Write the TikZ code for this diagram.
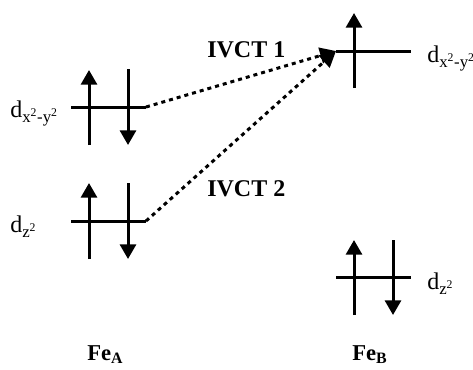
\documentclass[tikz,border=0pt]{standalone}
\usepackage{fontspec}
\setmainfont{Liberation Serif}
\usepackage{tikz}
\usetikzlibrary{arrows.meta,positioning}

\begin{document}
\begin{tikzpicture}[x=0.75pt,y=-0.75pt,
  lvl/.style={line width=2.25pt},
  spin/.style={line width=2.25pt,-{Triangle[width=12pt,length=11pt]}},
  ivct/.style={line width=2.25pt,dash pattern=on 3pt off 3pt,
               -{Triangle[width=12pt,length=12pt]}},
  orb/.style={font=\fontsize{18}{20}\selectfont,inner sep=0pt,anchor=base west},
  lbl/.style={font=\bfseries\fontsize{18}{20}\selectfont,inner sep=0pt,anchor=base west},
]
\useasboundingbox (0,0) rectangle (473,369);
% levels
\coordinate (a1l) at (71,107);  \coordinate (a1r) at (146,107);
\coordinate (a2l) at (71,221);  \coordinate (a2r) at (146,221);
\coordinate (b1l) at (336,51);  \coordinate (b1r) at (411,51);
\coordinate (b2l) at (336,277); \coordinate (b2r) at (411,277);
\draw[lvl] (a1l) -- (a1r);
\draw[lvl] (a2l) -- (a2r);
\draw[lvl] (b1l) -- (b1r);
\draw[lvl] (b2l) -- (b2r);
% spins
\draw[spin] (89,145) -- (89,70);
\draw[spin] (128,69) -- (128,145);
\draw[spin] (89,259) -- (89,183);
\draw[spin] (128,183) -- (128,259);
\draw[spin] (354,88) -- (354,13);
\draw[spin] (354,315) -- (354,240);
\draw[spin] (393,240) -- (393,315);
% charge transfer
\draw[ivct] (a1r) -- (b1l);
\draw[ivct] (a2r) -- (b1l);
\node[lbl] (t1) at (207,57) {IVCT 1};
\node[lbl] (t2) at (207,196) {IVCT 2};
% orbital labels
\node[orb] (la1) at (10,117) {d\textsubscript{x\textsuperscript{2}-y\textsuperscript{2}}};
\node[orb] (la2) at (10,232) {d\textsubscript{z\textsuperscript{2}}};
\node[orb] (lb1) at (427,62) {d\textsubscript{x\textsuperscript{2}-y\textsuperscript{2}}};
\node[orb] (lb2) at (427,289) {d\textsubscript{z\textsuperscript{2}}};
\node[lbl,font=\bfseries\fontsize{17}{19}\selectfont] (fea) at (87,360) {Fe\textsubscript{A}};
\node[lbl,font=\bfseries\fontsize{17}{19}\selectfont] (feb) at (352,360) {Fe\textsubscript{B}};
\end{tikzpicture}
\end{document}
